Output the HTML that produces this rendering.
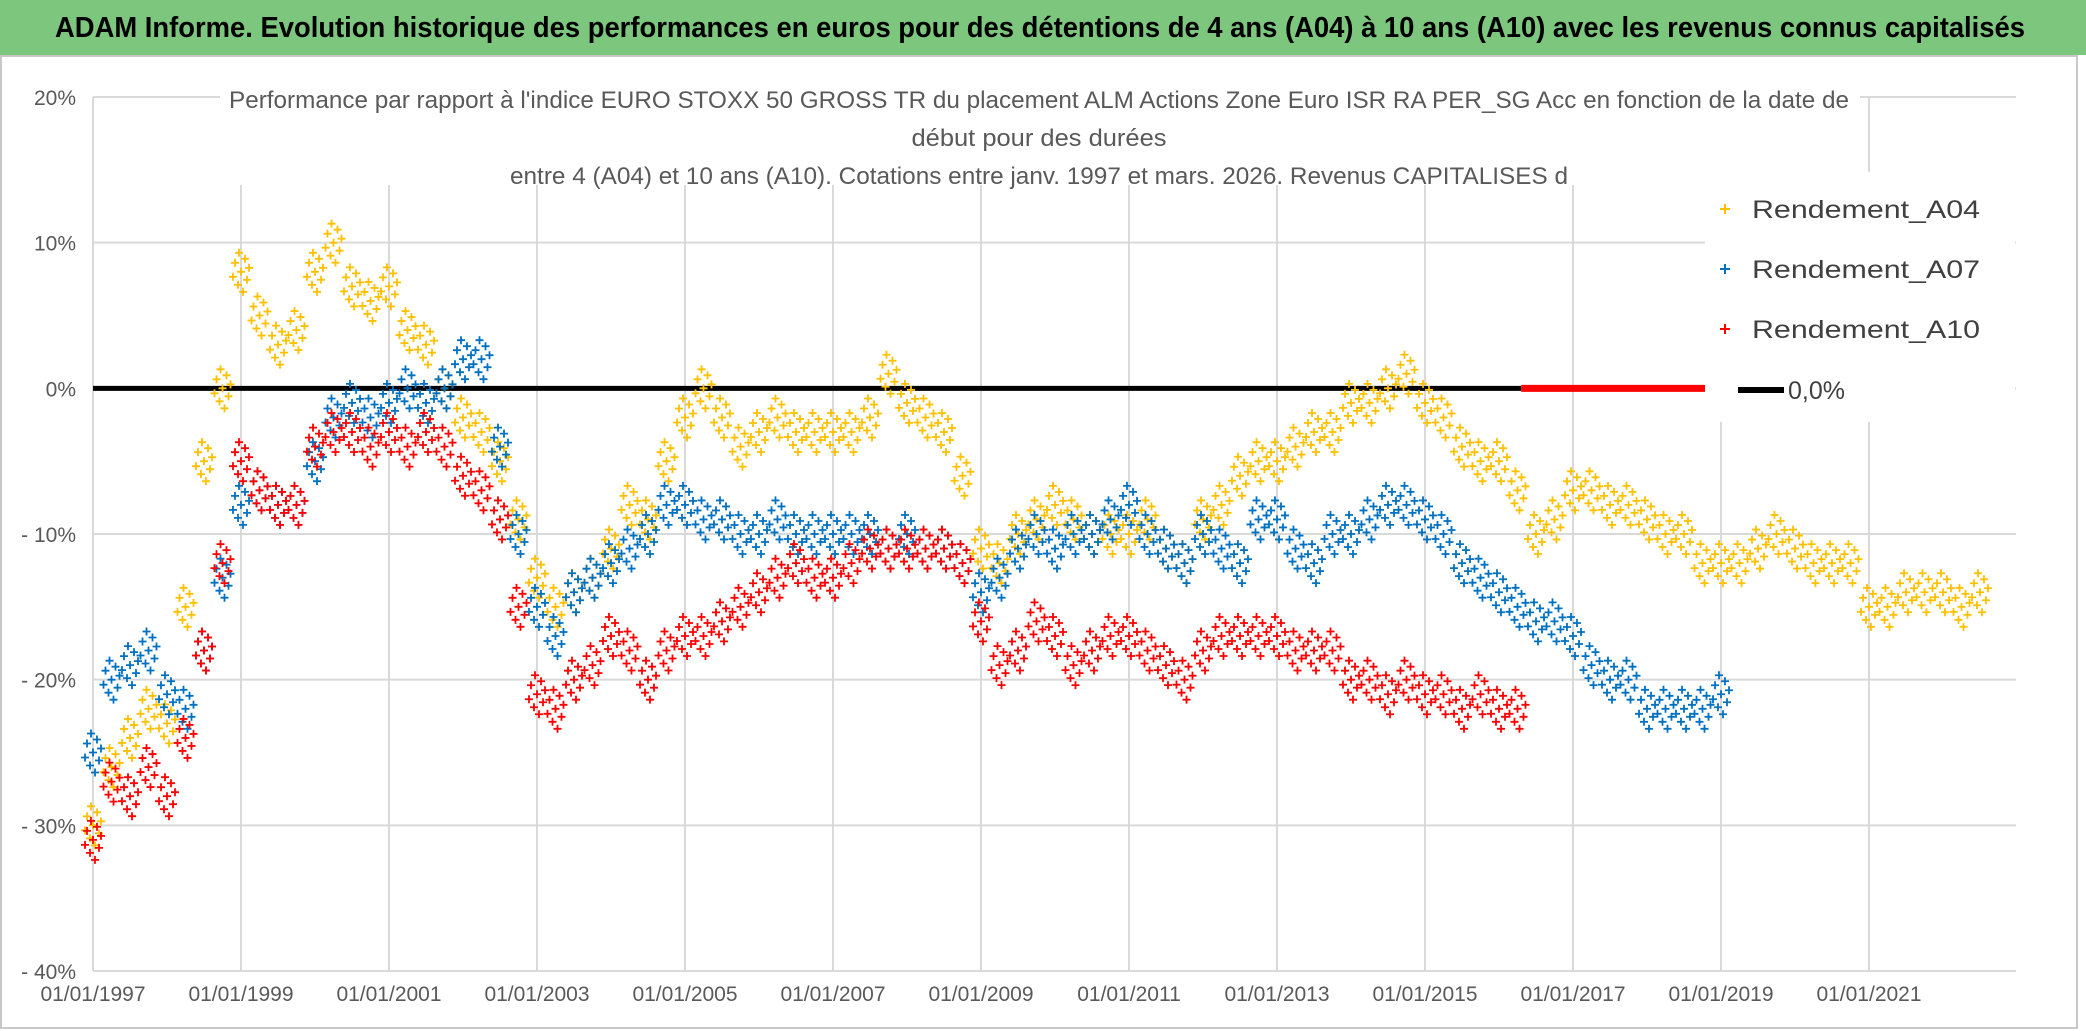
<!DOCTYPE html>
<html><head><meta charset="utf-8"><style>
html,body{margin:0;padding:0;background:#fff;}
svg{display:block;font-family:"Liberation Sans",sans-serif;}
</style></head><body>
<svg id="chart" width="2086" height="1031" viewBox="0 0 2086 1031">
<rect x="0" y="0" width="2086" height="1031" fill="#fff"/>
<rect x="0" y="0" width="2086" height="55" fill="#7dc67e"/>
<text x="1040" y="37" text-anchor="middle" font-size="29" font-weight="bold" fill="#000" textLength="1970" lengthAdjust="spacingAndGlyphs">ADAM Informe. Evolution historique des performances en euros pour des détentions de 4 ans (A04) à 10 ans (A10) avec les revenus connus capitalisés</text>
<rect x="1" y="56" width="2076" height="972" fill="none" stroke="#c8c8c8" stroke-width="2"/>
<g id="grid"></g>
<g id="yticks"></g>
<g id="xticks"></g>
<rect x="220" y="80" width="1640" height="105" fill="#fff"/>
<g fill="#595959" font-size="24">
<text x="1039" y="108" text-anchor="middle" textLength="1620" lengthAdjust="spacingAndGlyphs">Performance par rapport à l'indice EURO STOXX 50 GROSS TR  du placement ALM Actions Zone Euro ISR RA PER_SG Acc en fonction de la date de</text>
<text x="1039" y="146" text-anchor="middle" textLength="255" lengthAdjust="spacingAndGlyphs">début pour des durées</text>
<text x="1039" y="184" text-anchor="middle" textLength="1058" lengthAdjust="spacingAndGlyphs">entre 4 (A04) et 10 ans (A10). Cotations entre janv. 1997 et mars. 2026. Revenus CAPITALISES d</text>
</g>
<g id="series"></g>
<g>
<rect x="1705" y="172" width="310" height="250" fill="#fff"/>
<g><path d="M1720 209h10M1725 204v10" stroke="#ffc000" stroke-width="2"/><text x="1752" y="218" font-size="25" fill="#404040" textLength="228" lengthAdjust="spacingAndGlyphs">Rendement_A04</text></g>
<g><path d="M1720 269h10M1725 264v10" stroke="#0070c0" stroke-width="2"/><text x="1752" y="278" font-size="25" fill="#404040" textLength="228" lengthAdjust="spacingAndGlyphs">Rendement_A07</text></g>
<g><path d="M1720 329h10M1725 324v10" stroke="#ff0000" stroke-width="2"/><text x="1752" y="338" font-size="25" fill="#404040" textLength="228" lengthAdjust="spacingAndGlyphs">Rendement_A10</text></g>
<g><path d="M1738 390h46" stroke="#000" stroke-width="6"/><text x="1788" y="399" font-size="25" fill="#404040">0,0%</text></g>
</g>
</svg>
<script>
const yTicks=[20,10,0,-10,-20,-30,-40];
const yTickLabels=["20%","10%","0%","- 10%","- 20%","- 30%","- 40%"];
const xTickYears=[1997,1999,2001,2003,2005,2007,2009,2011,2013,2015,2017,2019,2021];
const xTickLabels=["01/01/1997","01/01/1999","01/01/2001","01/01/2003","01/01/2005","01/01/2007","01/01/2009","01/01/2011","01/01/2013","01/01/2015","01/01/2017","01/01/2019","01/01/2021"];
const a04Start=1997;
const a04=[-30,-26,-24,-22,-23,-15,-5,0,8,5,3,4,8,10,7,6,7,4,3,0,-2,-3,-5,-9,-13,-15,-14,-13,-11,-8,-9,-5,-2,0,-2,-4,-3,-2,-3,-3,-3,-3,-2,1,-1,-2,-3,-6,-11,-12,-10,-9,-8,-9,-10,-10,-10,-9,-11,-12,-9,-8,-6,-5,-5,-4,-3,-3,-1,-1,0,1,-1,-2,-4,-5,-5,-7,-10,-9,-7,-7,-8,-8,-9,-10,-10,-12,-12,-12,-11,-10,-11,-12,-12,-12,-15,-15,-14,-14,-14,-15,-14];
const a07Start=1997;
const a07=[-25,-20,-19,-18,-21,-22,-18,-13,-8,-7,-8,-8,-5,-2,-1,-2,-1,0,-1,0,2,2,-4,-10,-15,-17,-14,-13,-12,-11,-10,-8,-8,-9,-9,-10,-10,-9,-10,-10,-10,-10,-10,-11,-10,-11,-11,-12,-14,-13,-11,-10,-11,-10,-10,-9,-8,-10,-11,-12,-10,-11,-12,-9,-9,-11,-12,-10,-10,-9,-8,-8,-9,-10,-12,-13,-14,-15,-16,-16,-17,-19,-20,-20,-22,-22,-22,-22,-21];
const a10Start=1997;
const a10=[-31,-27,-28,-26,-28,-24,-18,-12,-5,-7,-8,-8,-4,-3,-3,-4,-3,-4,-3,-4,-6,-7,-9,-15,-21,-22,-20,-19,-17,-18,-20,-18,-17,-17,-16,-15,-14,-13,-12,-13,-13,-12,-11,-11,-11,-11,-11,-12,-16,-19,-18,-16,-17,-19,-18,-17,-17,-18,-19,-20,-18,-17,-17,-17,-17,-18,-18,-18,-20,-20,-21,-20,-21,-21,-22,-21,-22,-22];
const zeroRedStart=2016.3, zeroRedEnd=2018.8;
const zeroLineEnd=2016.3;

const NS="http://www.w3.org/2000/svg";
const X0=93,X1=2016,Y20=97,Y40=971;
const xs=yr=>X0+(yr-1997)*74;
const ys=v=>Y20+(20-v)*(Y40-Y20)/60;
function mk(tag,attrs,parent){const e=document.createElementNS(NS,tag);for(const k in attrs)e.setAttribute(k,attrs[k]);parent.appendChild(e);return e;}
const grid=document.getElementById('grid');
yTicks.forEach((t,i)=>{
  const l=mk('line',{x1:X0,x2:X1,y1:ys(t),y2:ys(t),stroke:'#d9d9d9','stroke-width':2},grid);
  
  
  const tx=mk('text',{x:76,y:ys(t)+8,'text-anchor':'end','font-size':21,fill:'#595959'},document.getElementById('yticks'));
  tx.textContent=yTickLabels[i];
  
  
});
xTickYears.forEach((yr,i)=>{
  const l=mk('line',{x1:xs(yr),x2:xs(yr),y1:Y20,y2:Y40,stroke:'#d9d9d9','stroke-width':2},grid);
  
  
  const tx=mk('text',{x:xs(yr),y:1001,'text-anchor':'middle','font-size':21,fill:'#595959'},document.getElementById('xticks'));
  tx.textContent=xTickLabels[i];
  
  
});
const series=document.getElementById('series');
const zl=mk('line',{x1:X0,x2:xs(zeroLineEnd),y1:ys(0),y2:ys(0),stroke:'#000','stroke-width':5},series);


const zr=mk('line',{x1:xs(zeroRedStart),x2:xs(zeroRedEnd),y1:ys(0),y2:ys(0),stroke:'#ff0000','stroke-width':7},series);


const offs=[[0,0],[-6,-9],[6,8],[-3,13],[4,-13],[8,-4],[-8,5],[2,20],[-2,-19]];
function plot(arr,start,color,name){
  const g=mk('g',{stroke:color,'stroke-width':1.8,fill:'none'},series);
  
  
  let d='';
  arr.forEach((v,i)=>{
    const cx=xs(start+i*0.25),cy=ys(v);
    offs.forEach(o=>{const x=cx+o[0],y=cy+o[1];d+=`M${x-4} ${y}h8M${x} ${y-4}v8`;});
  });
  const p=mk('path',{d:d},g);
  
  
}
plot(a04,a04Start,'#ffc000','series-a04');
plot(a07,a07Start,'#0070c0','series-a07');
plot(a10,a10Start,'#ff0000','series-a10');
</script>
</body></html>
